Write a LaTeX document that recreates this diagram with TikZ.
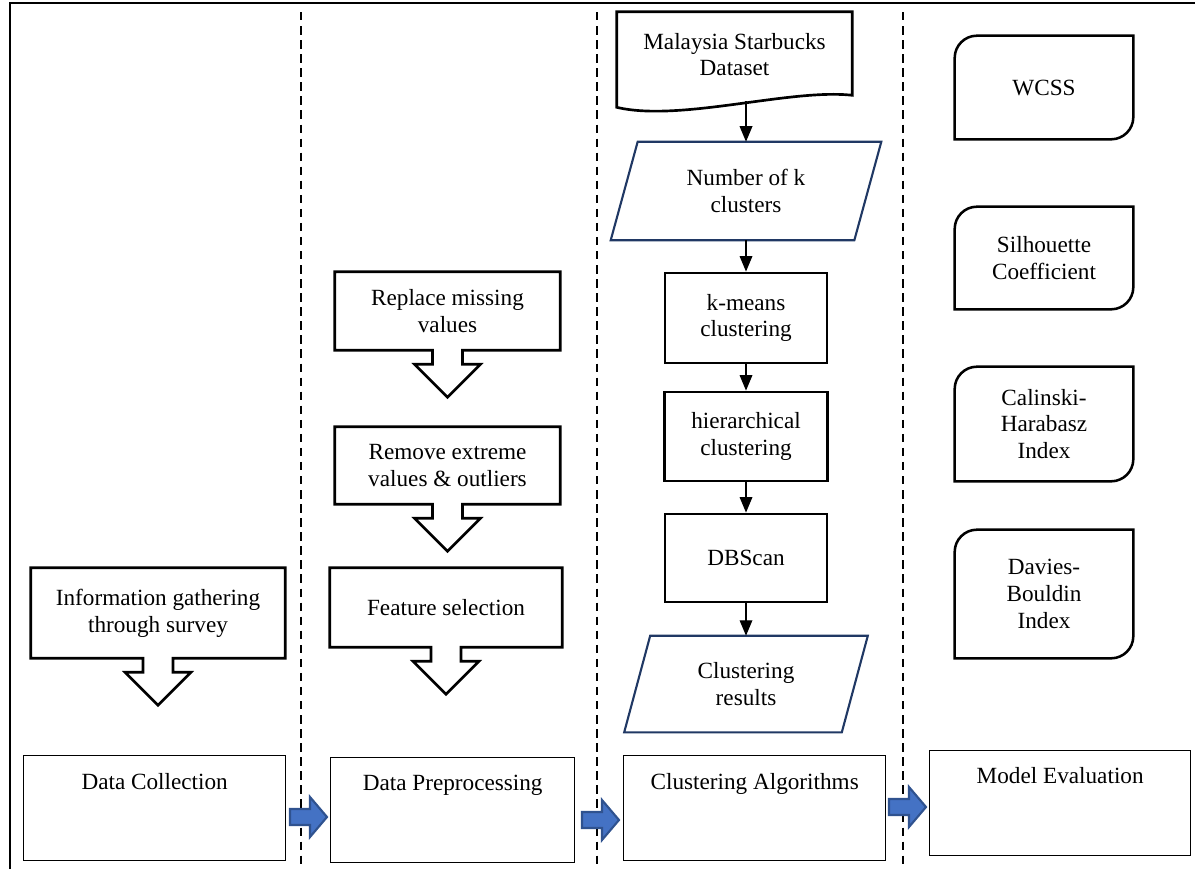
\documentclass[tikz,border=0pt]{standalone}
\usepackage{fontspec}
\setmainfont{Liberation Serif}
\usetikzlibrary{calc,arrows.meta}

\definecolor{navy}{HTML}{203864}
\definecolor{arrblue}{HTML}{4472C4}
\definecolor{arredge}{HTML}{2F528F}

\tikzset{
  txt/.style={align=center, inner sep=0pt},
  callline/.style={line width=1.9pt, line join=miter},
  procbox/.style={draw, line width=2pt, align=center, inner sep=0pt},
  datain/.style={draw=navy, line width=1.5pt, line join=miter},
  evalbox/.style={line width=1.8pt},
  phase/.style={draw, line width=0.9pt, align=center, inner sep=0pt, anchor=north west},
  flow/.style={-{Triangle[width=9pt,length=11pt]}, line width=0.9pt},
  stagearrow/.style={fill=arrblue, draw=arredge, line width=1.5pt, line join=miter},
  lane/.style={line width=1.4pt, dash pattern=on 6pt off 4pt}
}

% box with a block arrow pointing down
\newcommand\downcallout[1]{%
  \draw[callline] (#1.south west) -- (#1.north west) -- (#1.north east) -- (#1.south east)
    -- ($(#1.south)+(15,0)$) -- ++(0,14) -- ++(18,0) -- ($(#1.south)+(0,47)$)
    -- ($(#1.south)+(-33,14)$) -- ++(18,0) -- ++(0,-14) -- cycle;}
% box with two rounded corners
\newcommand\snipbox[1]{%
  \draw[evalbox] (#1.south west) -- ($(#1.north west)+(0,22)$)
    .. controls ($(#1.north west)+(0,10)$) and ($(#1.north west)+(10,0)$) .. ($(#1.north west)+(22,0)$)
    -- (#1.north east) -- ($(#1.south east)+(0,-22)$)
    .. controls ($(#1.south east)+(0,-10)$) and ($(#1.south east)+(-10,0)$) .. ($(#1.south east)+(-22,0)$) -- cycle;}
% blue block arrow between two coordinates
\newcommand\blockarrow[2]{%
  \draw[stagearrow] ($(#1)+(0,-8)$) -- ($(#2)+(-17,-8)$) -- ($(#2)+(-17,-20)$) -- (#2)
    -- ($(#2)+(-17,20)$) -- ($(#2)+(-17,8)$) -- ($(#1)+(0,8)$) -- cycle;}

\begin{document}
\begin{tikzpicture}[x=0.025cm, y=-0.025cm, font=\fontsize{16.5}{19}\selectfont]
  \useasboundingbox (0,0) rectangle (1195,869);

  % frame and lanes
  \draw[line width=2pt] (10,869) -- (10,3) -- (1195,3);
  \foreach \x in {301,597,903}
    \draw[lane] (\x,12) -- (\x,869);

  % phases
  \node[phase, minimum width=6.55cm, text height=0.85cm, text depth=1.775cm] (collect) at (23,755) {Data Collection};
  \node[phase, minimum width=6.1cm, text height=0.825cm, text depth=1.8cm] (prep) at (330,757) {Data Preprocessing};
  \node[phase, minimum width=6.55cm, text height=0.85cm, text depth=1.775cm] (algo) at (623,755) {Clustering Algorithms};
  \node[phase, minimum width=6.525cm, text height=0.825cm, text depth=1.8cm] (evalu) at (929,750) {Model Evaluation};

  \coordinate (a1s) at (290,817);  \coordinate (a1e) at (327,817);
  \coordinate (a2s) at (582,820);  \coordinate (a2e) at (619,820);
  \coordinate (a3s) at (889,807);  \coordinate (a3e) at (926,807);
  \blockarrow{a1s}{a1e}
  \blockarrow{a2s}{a2e}
  \blockarrow{a3s}{a3e}

  % data collection
  \node[txt, minimum width=6.35cm, minimum height=2.25cm] (survey) at (158,613) {Information gathering\\through survey};
  \downcallout{survey}

  % preprocessing
  \node[txt, minimum width=5.625cm, minimum height=1.95cm] (missing) at (447.5,311) {Replace missing\\values};
  \node[txt, minimum width=5.625cm, minimum height=1.925cm] (extreme) at (447.5,465.5) {Remove extreme\\values \& outliers};
  \node[txt, minimum width=5.8cm, minimum height=1.975cm] (feature) at (446,607.5) {Feature selection};
  \downcallout{missing}
  \downcallout{extreme}
  \downcallout{feature}

  % clustering
  \node[txt, minimum width=5.875cm, minimum height=2.125cm] (dataset) at (734.5,54.5) {Malaysia Starbucks\\Dataset};
  \draw[callline] (dataset.south west) -- (dataset.north west) -- (dataset.north east) -- ($(dataset.south east)+(0,-2)$)
    .. controls ($(dataset.south east)+(-62,-9)$) and ($(dataset.south west)+(63,25)$) .. ($(dataset.south west)+(0,10)$) -- cycle;

  \node[txt, minimum width=6.75cm, minimum height=2.45cm] (knum) at (746,191) {Number of k\\clusters};
  \draw[datain] ($(knum.north west)+(27,0)$) -- (knum.north east) -- ($(knum.south east)+(-27,0)$) -- (knum.south west) -- cycle;

  \node[procbox, minimum width=4.05cm, minimum height=2.25cm] (kmeans) at (746,318) {k-means\\clustering};
  \node[procbox, minimum width=4.075cm, minimum height=2.225cm] (hier) at (746,436.5) {hierarchical\\clustering};
  \node[procbox, minimum width=4.05cm, minimum height=2.2cm] (dbscan) at (746,558) {DBScan};

  \node[txt, minimum width=6.075cm, minimum height=2.4cm] (result) at (746,684) {Clustering\\results};
  \draw[datain] ($(result.north west)+(26,0)$) -- (result.north east) -- ($(result.south east)+(-26,0)$) -- (result.south west) -- cycle;

  \draw[flow] ($(dataset.south -| knum.north)+(0,4)$) -- (knum.north);
  \draw[flow] (knum.south) -- (kmeans.north);
  \draw[flow] (kmeans.south) -- (hier.north);
  \draw[flow] (hier.south) -- (dbscan.north);
  \draw[flow] (dbscan.south) -- (result.north);

  % evaluation
  \node[txt, minimum width=4.45cm, minimum height=2.575cm] (wcss) at (1044,87.5) {WCSS};
  \node[txt, minimum width=4.45cm, minimum height=2.55cm] (silh) at (1044,258) {Silhouette\\Coefficient};
  \node[txt, minimum width=4.45cm, minimum height=2.85cm] (calh) at (1044,424) {Calinski-\\Harabasz\\Index};
  \node[txt, minimum width=4.45cm, minimum height=3.2cm] (davb) at (1044,594) {Davies-\\Bouldin\\Index};
  \snipbox{wcss}
  \snipbox{silh}
  \snipbox{calh}
  \snipbox{davb}
\end{tikzpicture}
\end{document}
